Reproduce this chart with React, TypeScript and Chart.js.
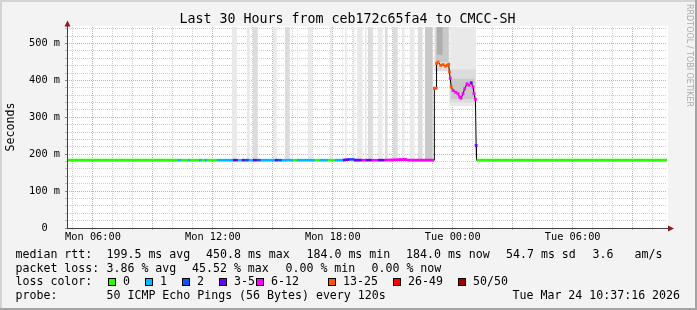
import React, { useEffect, useRef } from 'react';
import { Chart, registerables } from 'chart.js';
Chart.register(...registerables);

// ---- data (time in hours since Mon 00:00, values in ms) ----
const medianHours = [
  4.7, 10.25, 10.4, 10.75, 10.85, 11.3, 11.45, 11.6, 11.7, 12.2,
  13.0, 13.25, 13.45, 13.6, 13.8, 14.0, 14.2, 14.4, 15.1, 15.25,
  15.45, 16.0, 16.2, 17.1, 17.35, 17.75, 18.1, 18.5, 18.85, 19.05,
  19.1, 19.45, 19.65, 19.95, 20.25, 20.6, 21.65, 21.8, 23.07, 23.08,
  23.175, 23.19, 23.265, 23.4, 23.515, 23.635, 23.735, 23.8, 23.83, 23.875,
  23.925, 24.015, 24.15, 24.265, 24.35, 24.415, 24.515, 24.6, 24.715, 24.815,
  24.925, 25.015, 25.065, 25.135, 25.17, 25.19, 34.72,
];
const medianMs = [
  184, 184, 184, 184, 184, 184, 184, 184, 184, 184,
  184, 184, 184, 184, 184, 184, 184, 184, 184, 184,
  184, 184, 184, 184, 184, 184, 184, 184, 186, 186,
  184, 184, 184, 184, 184, 184, 186, 184, 184, 379,
  379, 446, 450, 441, 443, 439, 441, 444, 423, 406,
  382, 373, 368, 364, 355, 352, 364, 378, 391, 387,
  394, 382, 364, 349, 224, 184, 184,
];
// loss class per sample: 0="0",1="1",2="2",3="3-5",4="6-12",5="13-25",6="26-49",7="50/50"
const medianLoss = [
  0, 1, 0, 1, 0, 1, 0, 1, 0, 1,
  3, 1, 3, 2, 1, 3, 2, 1, 3, 2,
  1, 0, 1, 0, 1, 0, 1, 3, 2, 3,
  3, 4, 3, 4, 3, 4, 4, 4, 4, 5,
  5, 5, 5, 5, 5, 5, 5, 5, 5, 4,
  5, 4, 4, 4, 4, 4, 4, 4, 4, 4,
  3, 4, 4, 4, 3, 0, 0,
];
const lossLabels = ['0', '1', '2', '3-5', '6-12', '13-25', '26-49', '50/50'];

// smoke bands (spread of the 50 pings)
const smokeStartHours = [
  12.935, 13.685, 14.0, 15.0, 15.6, 16.2, 16.75, 17.85, 18.45, 18.6,
  19.0, 19.2, 19.6, 19.75, 20.25, 20.6, 21.0, 21.45, 21.85, 22.25,
  22.6, 23.075, 23.15, 23.2, 23.83, 23.83, 23.9,
];
const smokeEndHours = [
  13.2, 13.85, 14.25, 15.2, 15.85, 16.25, 16.95, 17.95, 18.5, 18.7,
  19.1, 19.5, 19.7, 20.0, 20.5, 20.75, 21.25, 21.6, 22.1, 22.5,
  23.0, 23.83, 23.8, 23.5, 25.17, 25.17, 25.1,
];
const smokeLowMs = [
  184, 184, 184, 184, 184, 184, 184, 184, 184, 184,
  184, 184, 184, 184, 184, 184, 184, 184, 184, 184,
  184, 425, 450, 470, 330, 340, 350,
];
const smokeHighMs = [
  600, 600, 600, 600, 600, 600, 600, 600, 600, 600,
  600, 600, 600, 600, 600, 600, 600, 600, 600, 600,
  600, 600, 600, 600, 600, 430, 405,
];
const smokeDensity = [
  1, 1, 2, 1, 2, 1, 1, 1, 1, 1,
  1, 1, 1, 2, 1, 2, 2, 1, 1, 2,
  3, 2, 3, 4, 1, 2, 3,
];

const xTickHours = [6, 12, 18, 24, 30];
const xTickLabels = ['Mon 06:00', 'Mon 12:00', 'Mon 18:00', 'Tue 00:00', 'Tue 06:00'];
const yTickMs = [0, 100, 200, 300, 400, 500];
const yTickLabels = ['0  ', '100 m', '200 m', '300 m', '400 m', '500 m'];

const titleText = 'Last 30 Hours from ceb172c65fa4 to CMCC-SH';
const rttStats = ['199.5 ms avg', '450.8 ms max', '184.0 ms min', '184.0 ms now', '54.7 ms sd', '3.6', 'am/s'];
const lossStats = ['3.86 % avg', '45.52 % max', '0.00 % min', '0.00 % now'];
const probeText = '50 ICMP Echo Pings (56 Bytes) every 120s';
const stampText = 'Tue Mar 24 10:37:16 2026';

// ---- styles ----
const LOSS_COLORS = ['#26ff00', '#00b8ff', '#0059ff', '#6a00ff', '#ff00ff', '#ff5500', '#ff0000', '#a10000'];
const SMOKE_SHADES = ['#ffffff', '#e9e9e9', '#dcdcdc', '#c9c9c9', '#aeaeae'];
const MONO = '"DejaVu Sans Mono", monospace';
const GRID_MINOR = '#cfcfcf';
const GRID_MAJOR = '#e6a4a4';

const decorPlugin = {
  id: 'decor',
  beforeDraw(chart: any) {
    const ctx = chart.ctx;
    const W = chart.width, H = chart.height;
    const a = chart.chartArea;
    ctx.save();
    ctx.fillStyle = '#f3f3f3';
    ctx.fillRect(0, 0, W, H);
    ctx.fillStyle = '#d4d4d4';
    ctx.fillRect(0, 0, W, 2);
    ctx.fillRect(0, 0, 2, H);
    ctx.fillStyle = '#a4a4a4';
    ctx.fillRect(0, H - 2, W, 2);
    ctx.fillRect(W - 2, 0, 2, H);
    ctx.fillStyle = '#ffffff';
    ctx.fillRect(a.left, a.top - 1, a.right - a.left + 1, a.bottom - a.top + 1);
    ctx.restore();
  },
  afterDatasetsDraw(chart: any) {
    const ctx = chart.ctx;
    const a = chart.chartArea;
    ctx.save();
    ctx.strokeStyle = '#404040';
    ctx.lineWidth = 1;
    ctx.beginPath();
    ctx.moveTo(a.left + 0.5, a.bottom + 0.5);
    ctx.lineTo(a.left + 0.5, a.top - 5);
    ctx.moveTo(a.left, a.bottom + 0.5);
    ctx.lineTo(a.right + 1, a.bottom + 0.5);
    ctx.stroke();
    ctx.fillStyle = '#8b1a1a';
    ctx.beginPath();
    ctx.moveTo(a.left + 0.5, a.top - 6.5);
    ctx.lineTo(a.left - 2.5, a.top - 0.5);
    ctx.lineTo(a.left + 3.5, a.top - 0.5);
    ctx.closePath();
    ctx.fill();
    ctx.beginPath();
    ctx.moveTo(a.right + 7, a.bottom + 0.5);
    ctx.lineTo(a.right + 1, a.bottom - 2.5);
    ctx.lineTo(a.right + 1, a.bottom + 3.5);
    ctx.closePath();
    ctx.fill();
    ctx.restore();
  },
  afterDraw(chart: any) {
    const ctx = chart.ctx;
    ctx.save();
    ctx.fillStyle = '#000';
    ctx.textBaseline = 'middle';
    ctx.textAlign = 'center';
    ctx.font = `13.3px ${MONO}`;
    ctx.fillText(titleText, 347.5, 19.5);

    ctx.font = `11.6px ${MONO}`;
    ctx.save();
    ctx.translate(10.5, 127);
    ctx.rotate(-Math.PI / 2);
    ctx.fillText('Seconds', 0, 0);
    ctx.restore();

    ctx.textAlign = 'left';
    const y1 = 254.5, y2 = 268.5, y3 = 282, y4 = 296;
    ctx.fillText('median rtt:', 15.5, y1);
    const rttX = [106.5, 206, 306.5, 406, 506, 592.5, 634.5];
    rttStats.forEach((t, i) => ctx.fillText(t, rttX[i], y1));
    ctx.fillText('packet loss:', 15.5, y2);
    const lossX = [106.5, 192, 285.5, 371.5];
    lossStats.forEach((t, i) => ctx.fillText(t, lossX[i], y2));
    ctx.fillText('loss color:', 15.5, y3);
    const boxX = [108, 145, 182, 219, 256, 328, 393, 458];
    lossLabels.forEach((t, i) => {
      ctx.fillStyle = LOSS_COLORS[i];
      ctx.fillRect(boxX[i], y3 - 4, 8, 8);
      ctx.strokeStyle = '#000';
      ctx.lineWidth = 1;
      ctx.strokeRect(boxX[i] + 0.5, y3 - 3.5, 7, 7);
      ctx.fillStyle = '#000';
      ctx.fillText(t, boxX[i] + 15, y3);
    });
    ctx.fillText('probe:', 15.5, y4);
    ctx.fillText(probeText, 106.5, y4);
    ctx.fillText(stampText, 512.5, y4);

    ctx.save();
    ctx.translate(689, 4);
    ctx.rotate(Math.PI / 2);
    ctx.fillStyle = '#ababab';
    ctx.font = '8px "DejaVu Sans", sans-serif';
    ctx.fillText('RRDTOOL / TOBI OETIKER', 0, 0);
    ctx.restore();
    ctx.restore();
  },
};

export default function App() {
  const ref = useRef<HTMLCanvasElement | null>(null);
  useEffect(() => {
    if (!ref.current) return;
    const medianPts = medianHours.map((h, i) => ({ x: h, y: medianMs[i] }));
    const smokeSets = smokeStartHours.map((s, i) => ({
      type: 'line',
      data: [
        { x: s, y: smokeHighMs[i] },
        { x: smokeEndHours[i], y: smokeHighMs[i] },
      ],
      fill: { value: smokeLowMs[i] },
      backgroundColor: SMOKE_SHADES[smokeDensity[i]],
      borderColor: 'rgba(0,0,0,0)',
      borderWidth: 0,
      pointRadius: 0,
      order: 20 - smokeDensity[i],
    }));
    const chart = new Chart(ref.current, {
      type: 'line',
      data: {
        datasets: [
          {
            data: medianPts,
            borderWidth: 2.6,
            borderColor: '#000',
            borderCapStyle: 'butt',
            segment: {
              borderColor: (c: any) => {
                const y0 = c.p0.parsed.y, y1 = c.p1.parsed.y;
                return y0 < 200 && y1 < 200 && Math.abs(y0 - y1) <= 4
                  ? LOSS_COLORS[medianLoss[c.p0DataIndex]]
                  : 'rgba(0,0,0,0)';
              },
            },
            pointStyle: 'rect',
            pointRadius: (c: any) => (medianMs[c.dataIndex] >= 200 ? 2 : 0),
            pointBorderWidth: 0,
            pointBackgroundColor: (c: any) => LOSS_COLORS[medianLoss[c.dataIndex]],
            order: 0,
          },
          {
            data: medianPts,
            borderWidth: 1,
            borderColor: '#000',
            pointRadius: 0,
            order: 1,
          },
          ...smokeSets,
        ] as any,
      },
      options: {
        animation: false,
        responsive: false,
        devicePixelRatio: 1,
        events: [],
        layout: { padding: { left: 0, top: 27, right: 30, bottom: 62 } },
        plugins: { legend: { display: false }, tooltip: { enabled: false }, title: { display: false } },
        scales: {
          x: {
            type: 'linear',
            min: 4.7,
            max: 34.72,
            afterFit: (s: any) => { s.height = 20; },
            ticks: {
              stepSize: 1,
              autoSkip: false,
              maxRotation: 0,
              minRotation: 0,
              includeBounds: false,
              padding: 1.5,
              color: '#000',
              font: { family: MONO, size: 10.3 },
              callback: (v: any) => {
                const k = xTickHours.indexOf(Math.round(Number(v) * 1000) / 1000);
                return k >= 0 ? xTickLabels[k] : '';
              },
            },
            grid: {
              color: (c: any) => (c.tick && c.tick.value % 3 === 0 ? GRID_MAJOR : GRID_MINOR),
              tickColor: (c: any) => (c.tick && c.tick.value % 3 === 0 ? GRID_MAJOR : GRID_MINOR),
              lineWidth: 1,
              tickLength: 2,
            },
            border: { display: false, dash: [1, 1] },
          },
          y: {
            type: 'linear',
            min: 0,
            max: 545,
            afterFit: (s: any) => { s.width = 67; },
            ticks: {
              stepSize: 20,
              includeBounds: false,
              autoSkip: false,
              padding: 5,
              color: '#000',
              font: { family: MONO, size: 10.3 },
              callback: (v: any) => {
                const k = yTickMs.indexOf(Math.round(Number(v)));
                return k >= 0 ? yTickLabels[k] : '';
              },
            },
            grid: {
              color: (c: any) => (c.tick && c.tick.value % 100 === 0 ? GRID_MAJOR : GRID_MINOR),
              tickColor: (c: any) => (c.tick && c.tick.value % 100 === 0 ? '#888' : '#bbb'),
              lineWidth: 1,
              tickLength: 2,
            },
            border: { display: false, dash: [1, 1] },
          },
        },
      } as any,
      plugins: [decorPlugin],
    });
    return () => chart.destroy();
  }, []);
  return (
    <div style={{ position: 'absolute', left: 0, top: 0, width: 697, height: 310 }}>
      <canvas ref={ref} width={697} height={310} style={{ display: 'block', width: 697, height: 310 }} />
    </div>
  );
}
